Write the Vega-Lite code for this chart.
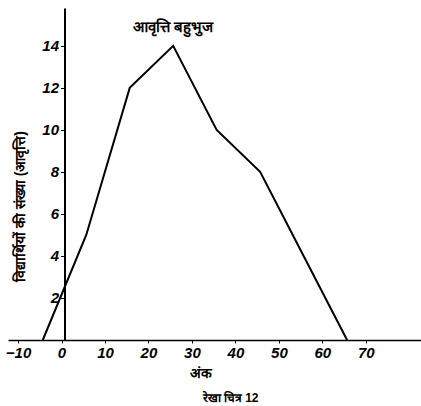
{
  "$schema": "https://vega.github.io/schema/vega-lite/v6.json",
  "width": 413,
  "height": 332,
  "autosize": {"type": "none"},
  "padding": {"left": 8, "top": 8, "right": 0, "bottom": 66},
  "background": "white",
  "config": {"view": {"stroke": null}, "font": "Liberation Sans"},
  "title": {
    "text": "रेखा चित्र 12",
    "orient": "bottom",
    "anchor": "middle",
    "dx": 16,
    "offset": 13,
    "fontSize": 12,
    "fontWeight": "bold",
    "color": "black"
  },
  "data": {
    "values": [
      {"score": -5, "frequency": 0},
      {"score": 5, "frequency": 5},
      {"score": 15, "frequency": 12},
      {"score": 25, "frequency": 14},
      {"score": 35, "frequency": 10},
      {"score": 45, "frequency": 8},
      {"score": 55, "frequency": 4},
      {"score": 65, "frequency": 0}
    ]
  },
  "layer": [
    {
      "mark": {"type": "line", "color": "black", "strokeWidth": 2},
      "encoding": {
        "x": {
          "field": "score",
          "type": "quantitative",
          "scale": {"domain": [-13, 82], "nice": false, "zero": false},
          "axis": {
            "values": [-10, 0, 10, 20, 30, 40, 50, 60, 70],
            "title": "अंक",
            "titleFontSize": 14,
            "titleFontWeight": "bold",
            "titleColor": "black",
            "titleX": 192,
            "titlePadding": 6,
            "labelFontSize": 15,
            "labelFontStyle": "italic",
            "labelFontWeight": "bold",
            "labelColor": "black",
            "labelPadding": 2,
            "domainColor": "black",
            "domainWidth": 1.5,
            "tickColor": "black",
            "tickSize": 3,
            "tickOffset": -3,
            "grid": false
          }
        },
        "y": {
          "field": "frequency",
          "type": "quantitative",
          "scale": {"domain": [0, 15.8], "nice": false},
          "axis": {
            "values": [2, 4, 6, 8, 10, 12, 14],
            "offset": -56.5,
            "title": "विद्यार्थियों की संख्या (आवृत्ति)",
            "titleFontSize": 14,
            "titleFontWeight": "bold",
            "titleColor": "black",
            "titleY": 198,
            "titlePadding": 14,
            "labelFontSize": 15,
            "labelFontStyle": "italic",
            "labelFontWeight": "bold",
            "labelColor": "black",
            "labelPadding": 2,
            "domainColor": "black",
            "domainWidth": 2,
            "tickColor": "black",
            "tickSize": 4,
            "grid": false
          }
        }
      }
    },
    {
      "data": {"values": [{}]},
      "mark": {"type": "text", "text": "आवृत्ति बहुभुज", "fontSize": 15, "fontWeight": "bold", "color": "black"},
      "encoding": {
        "x": {"datum": 25},
        "y": {"datum": 14.9}
      }
    }
  ]
}
